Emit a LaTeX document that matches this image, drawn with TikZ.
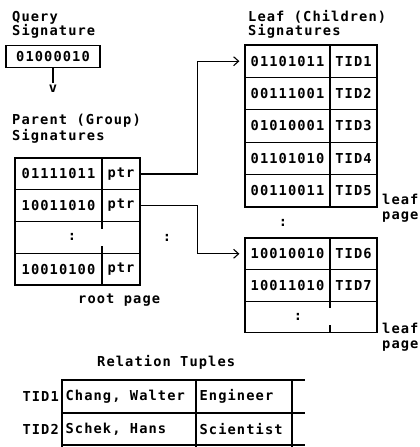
\documentclass[tikz,border=0pt]{standalone}
\usepackage{fontspec}
\newfontfamily\dmono[LetterSpace=8]{DejaVu Sans Mono}
\usetikzlibrary{arrows.meta}
\begin{document}
\begin{tikzpicture}[x=1pt,y=-1pt,
  every node/.style={font=\dmono\bfseries\fontsize{13.7}{15}\selectfont, inner sep=0pt},
  cell/.style={draw, line width=1.2pt},
  pA/.style={cell, minimum width=87pt, minimum height=31.75pt},
  pB/.style={cell, minimum width=38pt, minimum height=31.75pt},
  lA/.style={cell, minimum width=85pt, minimum height=32.4pt},
  lB/.style={cell, minimum width=47pt, minimum height=32.4pt},
  mA/.style={cell, minimum width=85pt, minimum height=31.6pt},
  mB/.style={cell, minimum width=47pt, minimum height=31.6pt},
  tA/.style={cell, minimum width=134pt, minimum height=#1},
  tB/.style={cell, minimum width=96pt, minimum height=#1},
  lbl/.style={anchor=base west},
  conn/.style={line width=1.2pt, -{Straight Barb[length=5pt,width=9pt,line width=1.1pt]}, shorten >=5pt},
  tick/.style={line width=1.2pt}
]
\useasboundingbox (0,0) rectangle (420,447);

% Query signature
\node[lbl] (qt1) at (12,21) {Query};
\node[lbl] (qt2) at (12,35) {Signature};
\node[cell, minimum width=94pt, minimum height=22pt] (q) at (53,56.5) {01000010};
\node (qv) at (53,89) {v};
\draw[tick] (q.south) -- ++(0,15);

% Parent signatures
\node[lbl] (pt1) at (12,124) {Parent (Group)};
\node[lbl] (pt2) at (12,140) {Signatures};
\node[pA] (p1a) at (58.5,173.9) {01111011};
\node[pB] (p1b) at (121,173.9) {ptr};
\node[pA] (p2a) at (58.5,205.6) {10011010};
\node[pB] (p2b) at (121,205.6) {ptr};
\node[cell, minimum width=125pt, minimum height=31.75pt] (p3) at (77.5,237.4) {};
\node (p3d) at (72,237.4) {:};
\draw[tick] (102,221.5) -- (102,229);
\draw[tick] (102,246) -- (102,253.25);
\node[pA] (p4a) at (58.5,269.1) {10010100};
\node[pB] (p4b) at (121,269.1) {ptr};
\node[lbl] (root) at (78,303) {root page};
\node (mid) at (167,238) {:};

% Leaf signatures page 1
\node[lbl] (lt1) at (248,21) {Leaf (Children)};
\node[lbl] (lt2) at (248,35) {Signatures};
\node[lA] (l1a) at (287.5,61.2) {01101011};
\node[lB] (l1b) at (353.5,61.2) {TID1};
\node[lA] (l2a) at (287.5,93.6) {00111001};
\node[lB] (l2b) at (353.5,93.6) {TID2};
\node[lA] (l3a) at (287.5,126) {01010001};
\node[lB] (l3b) at (353.5,126) {TID3};
\node[lA] (l4a) at (287.5,158.4) {01101010};
\node[lB] (l4b) at (353.5,158.4) {TID4};
\node[lA] (l5a) at (287.5,190.8) {00110011};
\node[lB] (l5b) at (353.5,190.8) {TID5};
\node[lbl] (lp1) at (382,204) {leaf};
\node[lbl] (lp2) at (382,219) {page};
\node (ld) at (283,223) {:};

% Leaf signatures page 2
\node[mA] (m1a) at (287.5,253.8) {10010010};
\node[mB] (m1b) at (353.5,253.8) {TID6};
\node[mA] (m2a) at (287.5,285.4) {10011010};
\node[mB] (m2b) at (353.5,285.4) {TID7};
\node[cell, minimum width=132pt, minimum height=31.6pt] (m3) at (311,317) {};
\node (m3d) at (298,317) {:};
\draw[tick] (330,301.2) -- (330,308);
\draw[tick] (330,325) -- (330,332.8);
\node[lbl] (mp1) at (382,333) {leaf};
\node[lbl] (mp2) at (382,348) {page};

% Pointers
\draw[conn] (p1b.east) -- ++(57,0) |- (l1a.west);
\draw[conn] (p2b.east) -- ++(57,0) |- (m1a.west);

% Relation tuples
\node[lbl] (rt) at (97,366) {Relation Tuples};
\node[anchor=east] (r1) at (59,396.5) {TID1};
\node[anchor=east] (r2) at (59,429) {TID2};
\node[tA=33pt] (t1a) at (129,396.5) {};
\node[anchor=west] (c11) at (t1a.west) [xshift=4pt] {Chang, Walter};
\node[tB=33pt] (t1b) at (244,396.5) {};
\node[anchor=west] (c12) at (t1b.west) [xshift=4pt] {Engineer};
\node[tA=32pt] (t2a) at (129,429) {};
\node[anchor=west] (c21) at (t2a.west) [xshift=4pt] {Schek, Hans};
\node[tB=32pt] (t2b) at (244,429) {};
\node[anchor=west] (c22) at (t2b.west) [xshift=4pt] {Scientist};
\draw[tick] (292,380) -- (305,380);
\draw[tick] (292,413) -- (305,413);
\draw[tick] (292,445) -- (305,445);
\draw[tick] (62,445) -- (62,448);
\draw[tick] (196,445) -- (196,448);
\draw[tick] (292,445) -- (292,448);
\end{tikzpicture}
\end{document}
